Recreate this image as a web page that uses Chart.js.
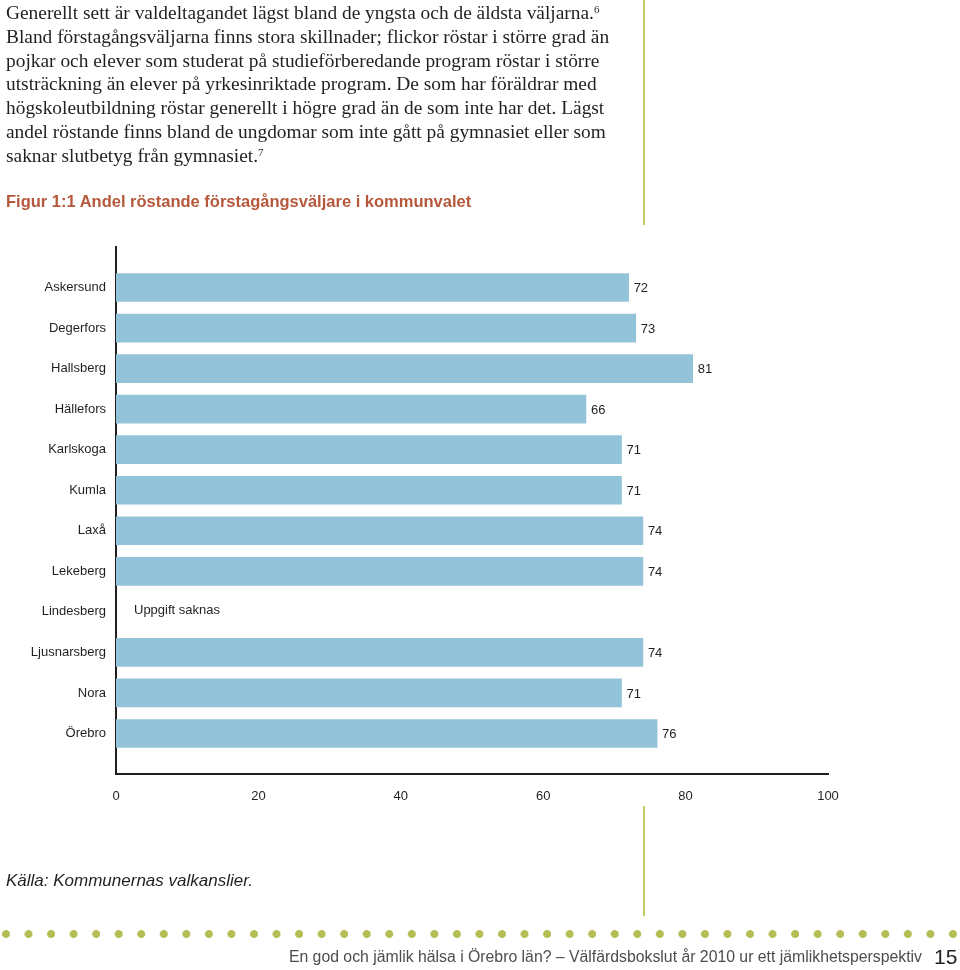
<!DOCTYPE html>
<html>
<head>
<meta charset="utf-8">
<script src="https://cdn.jsdelivr.net/npm/chart.js@4.4.1/dist/chart.umd.min.js"></script>
<style>
  html, body { margin:0; padding:0; background:#fff; }
  body { width:960px; height:970px; position:relative; overflow:hidden; }
  #body-text { position:absolute; left:6px; top:1px; font-family:"Liberation Serif","DejaVu Serif",serif; font-size:19.4px; line-height:23.8px; color:#231f20; white-space:nowrap; }
  #body-text sup { font-size:11px; vertical-align:top; position:relative; top:-3px; }
  #title { position:absolute; left:6px; top:192px; font-family:"Liberation Sans",Arial,sans-serif; font-weight:bold; font-size:16.5px; color:#b5583b; white-space:nowrap; }
  #source { position:absolute; left:6px; top:871px; font-family:"Liberation Sans",Arial,sans-serif; font-style:italic; font-size:17px; color:#231f20; white-space:nowrap; }
  .vline { position:absolute; left:643px; width:1.5px; background:#c2cc62; }
  #dots { position:absolute; left:0; top:927px; width:960px; height:14px;
    background-image: radial-gradient(circle at 6px 7px, #b4be55 3.6px, rgba(255,255,255,0) 4.3px);
    background-size: 22.55px 14px; background-repeat: repeat-x; }
  #footer { position:absolute; right:38px; top:948px; font-family:"Liberation Sans Narrow","Liberation Sans",Arial,sans-serif; font-size:15.8px; color:#4d4d4d; white-space:nowrap; }
  #pagenum { position:absolute; left:934px; top:945px; font-family:"Liberation Sans Narrow","Liberation Sans",Arial,sans-serif; font-size:21px; color:#231f20; }
  #chartwrap { position:absolute; left:0; top:0; width:960px; height:970px; }
</style>
</head>
<body>
<div id="chartwrap"><canvas id="c" width="960" height="970"></canvas></div>
<div id="body-text">Generellt sett är valdeltagandet lägst bland de yngsta och de äldsta väljarna.<sup>6</sup><br>Bland förstagångsväljarna finns stora skillnader; flickor röstar i större grad än<br>pojkar och elever som studerat på studieförberedande program röstar i större<br>utsträckning än elever på yrkesinriktade program. De som har föräldrar med<br>högskoleutbildning röstar generellt i högre grad än de som inte har det. Lägst<br>andel röstande finns bland de ungdomar som inte gått på gymnasiet eller som<br>saknar slutbetyg från gymnasiet.<sup>7</sup></div>
<div id="title">Figur 1:1 Andel röstande förstagångsväljare i kommunvalet</div>
<div class="vline" style="top:0;height:225px;"></div>
<div class="vline" style="top:806px;height:110px;"></div>
<div id="source">Källa: Kommunernas valkanslier.</div>
<div id="dots"></div>
<div id="footer">En god och jämlik hälsa i Örebro län? – Välfärdsbokslut år 2010 ur ett jämlikhetsperspektiv</div>
<div id="pagenum">15</div>
<script>
// Data
const municipalities = ["Askersund","Degerfors","Hallsberg","Hällefors","Karlskoga","Kumla","Laxå","Lekeberg","Lindesberg","Ljusnarsberg","Nora","Örebro"];
const shareVoting = [72, 73, 81, 66, 71, 71, 74, 74, null, 74, 71, 76];
const missingLabel = "Uppgift saknas";
const xTicks = [0, 20, 40, 60, 80, 100];

// Blank labels at both ends give the half-band padding above/below the bars
const labels = [""].concat(municipalities, [""]);
const values = [null].concat(shareVoting, [null]);

const FONT = '"Liberation Sans", Arial, sans-serif';

const valueLabels = {
  id: 'valueLabels',
  afterDatasetsDraw(chart) {
    const ctx = chart.ctx;
    const meta = chart.getDatasetMeta(0);
    const xs = chart.scales.x;
    ctx.save();
    ctx.font = '13px ' + FONT;
    ctx.fillStyle = '#231f20';
    ctx.textBaseline = 'middle';
    ctx.textAlign = 'left';
    meta.data.forEach((el, i) => {
      if (labels[i] === "") return;
      const v = values[i];
      if (v === null) {
        const y = chart.scales.y.getPixelForValue(i);
        ctx.fillText(missingLabel, xs.getPixelForValue(0) + 18, y - 1);
      } else {
        ctx.fillText(String(v), el.x + 5, el.y + 1);
      }
    });
    ctx.restore();
  }
};

new Chart(document.getElementById('c'), {
  type: 'bar',
  data: {
    labels: labels,
    datasets: [{
      data: values,
      backgroundColor: '#93c3d9',
      borderWidth: 0,
      barThickness: 28
    }]
  },
  options: {
    indexAxis: 'y',
    responsive: false,
    animation: false,
    layout: { padding: { top: 247, right: 132, bottom: 156, left: 0 } },
    plugins: { legend: { display: false }, tooltip: { enabled: false } },
    scales: {
      x: {
        type: 'linear',
        min: 0, max: 100,
        afterBuildTicks(scale) { scale.ticks = xTicks.map(v => ({ value: v })); },
        afterFit(scale) { scale.height = 40; },
        grid: { display: false, drawTicks: false },
        border: { display: true, color: '#231f20', width: 2 },
        ticks: { color: '#231f20', font: { family: FONT, size: 13 }, padding: 15, maxRotation: 0 }
      },
      y: {
        type: 'category',
        offset: false,
        afterFit(scale) { scale.width = 116; },
        grid: { display: false, drawTicks: false },
        border: { display: true, color: '#231f20', width: 2 },
        ticks: { color: '#231f20', font: { family: FONT, size: 13 }, padding: 10, autoSkip: false }
      }
    }
  },
  plugins: [valueLabels]
});
</script>
</body>
</html>
